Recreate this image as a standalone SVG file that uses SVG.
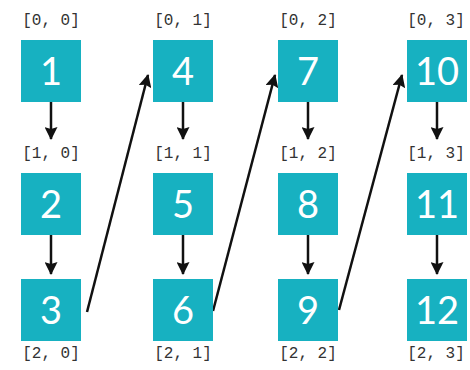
<svg xmlns="http://www.w3.org/2000/svg" width="470" height="370" viewBox="0 0 470 370">
  <style>
    .box { fill: #17b1c1; }
    .num { font-family: Lato, "Open Sans", sans-serif; font-size: 38px; fill: #ffffff; text-anchor: middle; }
    .idx { font-family: "Liberation Mono", "DejaVu Sans Mono", monospace; font-size: 16px; fill: #333333; text-anchor: middle; }
    .edge { stroke: #111111; stroke-width: 2.5; fill: none; marker-end: url(#head); }
  </style>
  <defs>
    <marker id="head" viewBox="0 0 13 13" refX="12" refY="6.5" markerWidth="13" markerHeight="13" markerUnits="userSpaceOnUse" orient="auto">
      <path d="M0,0 L13,6.5 L0,13 L2,6.5 z" fill="#111111"/>
    </marker>
  </defs>

  <rect width="470" height="370" fill="#ffffff"/>

  <!-- index labels -->
  <g id="labels">
    <text class="idx" x="51" y="25">[0, 0]</text>
    <text class="idx" x="183" y="25">[0, 1]</text>
    <text class="idx" x="308" y="25">[0, 2]</text>
    <text class="idx" x="436" y="25">[0, 3]</text>
    <text class="idx" x="51" y="158">[1, 0]</text>
    <text class="idx" x="183" y="158">[1, 1]</text>
    <text class="idx" x="308" y="158">[1, 2]</text>
    <text class="idx" x="436" y="158">[1, 3]</text>
    <text class="idx" x="51" y="358">[2, 0]</text>
    <text class="idx" x="183" y="358">[2, 1]</text>
    <text class="idx" x="308" y="358">[2, 2]</text>
    <text class="idx" x="436" y="358">[2, 3]</text>
  </g>

  <!-- connectors -->
  <g id="connectors">
    <line class="edge" x1="51" y1="102" x2="51" y2="139"/>
    <line class="edge" x1="51" y1="235" x2="51" y2="274"/>
    <line class="edge" x1="183" y1="102" x2="183" y2="139"/>
    <line class="edge" x1="183" y1="235" x2="183" y2="274"/>
    <line class="edge" x1="308" y1="102" x2="308" y2="139"/>
    <line class="edge" x1="308" y1="235" x2="308" y2="274"/>
    <line class="edge" x1="437" y1="102" x2="437" y2="139"/>
    <line class="edge" x1="437" y1="235" x2="437" y2="274"/>
    <line class="edge" x1="87" y1="312" x2="148" y2="75"/>
    <line class="edge" x1="213" y1="311" x2="275" y2="75"/>
    <line class="edge" x1="339" y1="310" x2="402" y2="75"/>
  </g>

  <!-- cells -->
  <g id="n1"><rect class="box" x="21" y="40" width="60" height="62"/><text class="num" x="51" y="85">1</text></g>
  <g id="n2"><rect class="box" x="21" y="173" width="60" height="62"/><text class="num" x="51" y="218">2</text></g>
  <g id="n3"><rect class="box" x="21" y="279" width="60" height="62"/><text class="num" x="51" y="324">3</text></g>
  <g id="n4"><rect class="box" x="153" y="40" width="60" height="62"/><text class="num" x="183" y="85">4</text></g>
  <g id="n5"><rect class="box" x="153" y="173" width="60" height="62"/><text class="num" x="183" y="218">5</text></g>
  <g id="n6"><rect class="box" x="153" y="279" width="60" height="62"/><text class="num" x="183" y="324">6</text></g>
  <g id="n7"><rect class="box" x="278" y="40" width="60" height="62"/><text class="num" x="308" y="85">7</text></g>
  <g id="n8"><rect class="box" x="278" y="173" width="60" height="62"/><text class="num" x="308" y="218">8</text></g>
  <g id="n9"><rect class="box" x="278" y="279" width="60" height="62"/><text class="num" x="308" y="324">9</text></g>
  <g id="n10"><rect class="box" x="407" y="40" width="60" height="62"/><text class="num" x="437" y="85">10</text></g>
  <g id="n11"><rect class="box" x="407" y="173" width="60" height="62"/><text class="num" x="437" y="218">11</text></g>
  <g id="n12"><rect class="box" x="407" y="279" width="60" height="62"/><text class="num" x="437" y="324">12</text></g>
</svg>
